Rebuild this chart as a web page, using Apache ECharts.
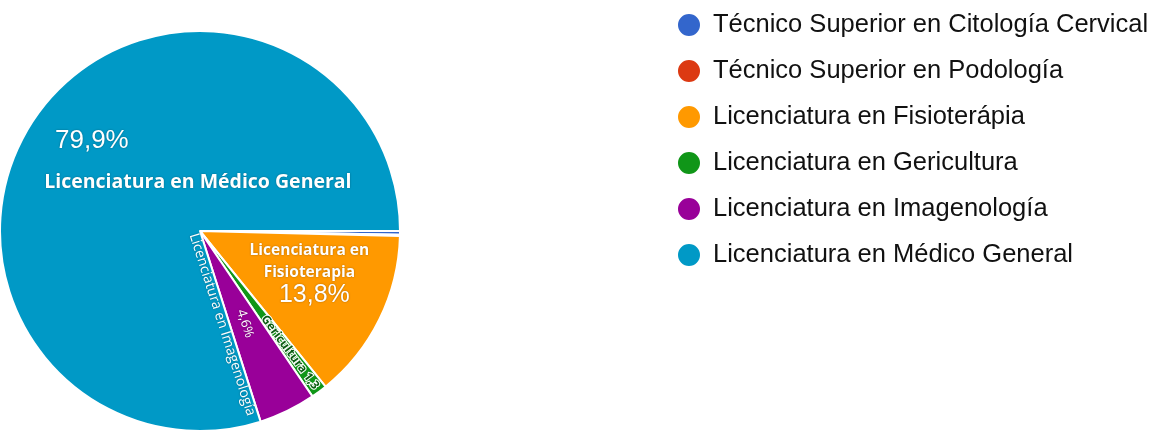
<!DOCTYPE html>
<html>
<head>
<meta charset="utf-8">
<script src="https://cdn.jsdelivr.net/npm/echarts@6/dist/echarts.min.js"></script>
<style>
  html, body { margin: 0; padding: 0; background: #fff; }
  #chart { width: 1163px; height: 442px; }
</style>
</head>
<body>
<div id="chart"></div>
<script>
// carreras (leyenda) y porcentajes
const categories = [
  'Técnico Superior en Citología Cervical',
  'Técnico Superior en Podología',
  'Licenciatura en Fisioterápia',
  'Licenciatura en Gericultura',
  'Licenciatura en Imagenología',
  'Licenciatura en Médico General',
];
const values = [0.3, 0.1, 13.8, 1.3, 4.6, 79.9];
// textos que aparecen dentro del pastel
const sliceNames = ['', '', 'Licenciatura en\nFisioterapia', 'Gericultura', 'Licenciatura en Imagenología', 'Licenciatura en Médico General'];
const colors = ['#3366cc', '#dc3912', '#ff9900', '#109618', '#990099', '#0099c6'];

const pct = (v) => v.toFixed(1).replace('.', ',');
const shadow = { textShadowColor: 'rgba(0,0,0,0.35)', textShadowBlur: 2 };

// angulo del borde final de Imagenología, para que su nombre corra pegado al borde
const total = values.reduce((a, b) => a + b, 0);
const imgEdge = (values.slice(0, 5).reduce((a, b) => a + b, 0) / total) * 360;

// cada rebanada lleva su propia etiqueta
const labels = [
  { show: false },
  { show: false },
  {
    show: true,
    position: 'inside',
    padding: [0, 0, 6, 34],
    formatter: (p) => sliceNames[p.dataIndex].split('\n').map((s) => '{n|' + s + '}').join('\n') + '\n{p|' + pct(p.value) + '%}',
    rich: {
      n: { color: '#fff', fontFamily: 'Open Sans', fontWeight: 'bold', fontSize: 15.5, lineHeight: 22, align: 'center', ...shadow },
      p: { color: '#fff', fontFamily: 'Liberation Sans', fontSize: 25, lineHeight: 24, align: 'center', padding: [0, 0, 0, 10], ...shadow },
    },
  },
  {
    show: true,
    position: 'inside',
    rotate: 'radial',
    padding: [0, 0, 0, 96],
    formatter: (p) => sliceNames[p.dataIndex] + ' ' + pct(p.value),
    color: '#0b5e12',
    fontFamily: 'Open Sans',
    fontWeight: 'bold',
    fontSize: 12,
    textBorderColor: '#fff',
    textBorderWidth: 2,
  },
  {
    show: true,
    position: 'inside',
    rotate: -imgEdge,
    padding: [30, 0, 0, 0],
    formatter: (p) => '{p|' + pct(p.value) + '%}\n{n|' + sliceNames[p.dataIndex] + '}',
    rich: {
      p: { color: '#fff', fontFamily: 'Open Sans', fontSize: 13, lineHeight: 14, align: 'center', ...shadow },
      n: { color: '#fff', fontFamily: 'Open Sans', fontSize: 14, lineHeight: 30, align: 'center', padding: [0, 12, 0, 0], ...shadow },
    },
  },
  {
    show: true,
    position: 'inside',
    padding: [0, 0, 30, 162],
    formatter: (p) => '{p|' + pct(p.value) + '%}\n{n|' + sliceNames[p.dataIndex] + '}',
    rich: {
      p: { color: '#fff', fontFamily: 'Liberation Sans', fontSize: 26, lineHeight: 54, align: 'center', padding: [0, 212, 0, 0], ...shadow },
      n: { color: '#fff', fontFamily: 'Open Sans', fontWeight: 'bold', fontSize: 19.5, lineHeight: 28, align: 'center', ...shadow },
    },
  },
];

const chart = echarts.init(document.getElementById('chart'));
const option = {
  animation: false,
  color: colors,
  legend: {
    orient: 'vertical',
    left: 676,
    top: 12,
    padding: 0,
    icon: 'circle',
    itemWidth: 24,
    itemHeight: 24,
    itemGap: 20,
    selectedMode: false,
    textStyle: {
      color: '#111',
      fontFamily: 'Liberation Sans',
      fontSize: 25.5,
      lineHeight: 24,
      padding: [0, 0, 0, 7],
    },
    data: categories,
  },
  series: [
    {
      name: 'Carreras',
      type: 'pie',
      center: [200, 231],
      radius: 200,
      startAngle: 0,
      clockwise: true,
      avoidLabelOverlap: false,
      labelLine: { show: false },
      itemStyle: { borderColor: '#fff', borderWidth: 2 },
      emphasis: { disabled: true },
      data: categories.map((name, i) => ({
        name,
        value: values[i],
        label: labels[i],
      })),
    },
  ],
};
chart.setOption(option);
</script>
</body>
</html>
